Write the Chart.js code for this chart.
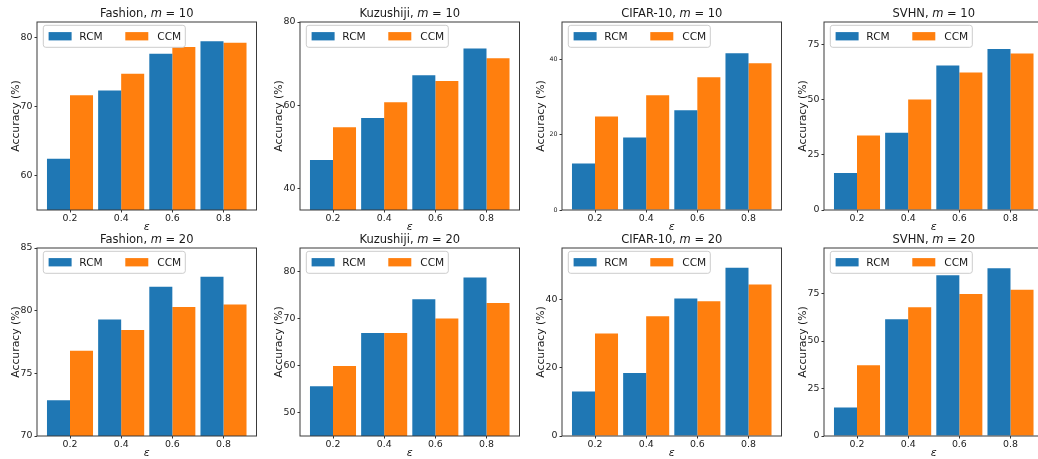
<!DOCTYPE html>
<html>
<head>
<meta charset="utf-8">
<script src="https://cdn.jsdelivr.net/npm/chart.js@4/dist/chart.umd.min.js"></script>
<style>
  html, body { margin: 0; padding: 0; background: #fff; overflow: hidden; }
  #wrap { position: relative; width: 1038px; height: 459px; }
  #wrap canvas { position: absolute; }
</style>
</head>
<body>
<div id="wrap"></div>
<script>
// x categories (privacy budget epsilon)
const epsLabels = ["0.2", "0.4", "0.6", "0.8"];
const seriesNames = ["RCM", "CCM"];

// accuracy (%), m = 10
const fashion10RCM = [62.4, 72.3, 77.6, 79.4];
const fashion10CCM = [71.6, 74.7, 78.6, 79.2];
const kuzu10RCM = [46.8, 56.9, 67.2, 73.6];
const kuzu10CCM = [54.7, 60.7, 65.8, 71.3];
const cifar10RCM = [12.4, 19.3, 26.5, 41.7];
const cifar10CCM = [24.9, 30.5, 35.3, 39.0];
const svhn10RCM = [16.8, 35.1, 65.6, 73.1];
const svhn10CCM = [33.8, 50.1, 62.4, 71.0];

// accuracy (%), m = 20
const fashion20RCM = [72.85, 79.3, 81.9, 82.7];
const fashion20CCM = [76.8, 78.45, 80.3, 80.5];
const kuzu20RCM = [55.6, 66.9, 74.1, 78.7];
const kuzu20CCM = [59.9, 66.9, 70.0, 73.3];
const cifar20RCM = [13.0, 18.4, 40.2, 49.2];
const cifar20CCM = [30.0, 35.0, 39.4, 44.3];
const svhn20RCM = [15.0, 61.5, 84.6, 88.3];
const svhn20CCM = [37.3, 67.8, 74.8, 77.0];

// y tick labels
const fashion10Ticks = [60, 70, 80];
const kuzu10Ticks = [40, 60, 80];
const cifar10Ticks = [0, 20, 40];
const svhn10Ticks = [0, 25, 50, 75];
const fashion20Ticks = [70, 75, 80, 85];
const kuzu20Ticks = [50, 60, 70, 80];
const cifar20Ticks = [0, 20, 40];
const svhn20Ticks = [0, 25, 50, 75];

// y limits
const fashion10Lim = [55, 82.2];
const kuzu10Lim = [34.8, 80];
const cifar10Lim = [0, 50];
const svhn10Lim = [0, 85.3];
const fashion20Lim = [70, 85];
const kuzu20Lim = [45, 85];
const cifar20Lim = [0, 55];
const svhn20Lim = [0, 99];

const FONT = "DejaVu Sans";
const BLUE = "#1f77b4";
const ORANGE = "#ff7f0e";
const INK = "#1a1a1a";

// layout of the 2x4 grid (plot area positions)
const colLeft = [37, 299.5, 562, 823.5];
const rowTop = [22, 248];
const plotW = 219.5, plotH = 188;
const padL = 45, padT = 22, padB = 24, padR = 3.5;

const panels = [
    { name: "Fashion", m: 10, rcm: fashion10RCM, ccm: fashion10CCM, ticks: fashion10Ticks, lim: fashion10Lim, row: 0, col: 0 },
    { name: "Kuzushiji", m: 10, rcm: kuzu10RCM, ccm: kuzu10CCM, ticks: kuzu10Ticks, lim: kuzu10Lim, row: 0, col: 1 },
    { name: "CIFAR-10", m: 10, rcm: cifar10RCM, ccm: cifar10CCM, ticks: cifar10Ticks, lim: cifar10Lim, row: 0, col: 2, tickSize: 6.3 },
    { name: "SVHN", m: 10, rcm: svhn10RCM, ccm: svhn10CCM, ticks: svhn10Ticks, lim: svhn10Lim, row: 0, col: 3 },
    { name: "Fashion", m: 20, rcm: fashion20RCM, ccm: fashion20CCM, ticks: fashion20Ticks, lim: fashion20Lim, row: 1, col: 0 },
    { name: "Kuzushiji", m: 20, rcm: kuzu20RCM, ccm: kuzu20CCM, ticks: kuzu20Ticks, lim: kuzu20Lim, row: 1, col: 1 },
    { name: "CIFAR-10", m: 20, rcm: cifar20RCM, ccm: cifar20CCM, ticks: cifar20Ticks, lim: cifar20Lim, row: 1, col: 2 },
    { name: "SVHN", m: 20, rcm: svhn20RCM, ccm: svhn20CCM, ticks: svhn20Ticks, lim: svhn20Lim, row: 1, col: 3 },
];

// title with italic m, axes frame and legend box
const panelDecor = {
    id: "panelDecor",
    afterDraw(chart, args, opts) {
        const ctx = chart.ctx;
        const ca = chart.chartArea;
        ctx.save();

        // frame
        ctx.strokeStyle = "#3a3a3a";
        ctx.lineWidth = 1;
        ctx.strokeRect(ca.left, ca.top, ca.right - ca.left, ca.bottom - ca.top);

        // title
        const parts = [
            { t: opts.name + ", ", f: "11.5px '" + FONT + "'" },
            { t: "m", f: "italic 11.5px '" + FONT + "'" },
            { t: " = " + opts.m, f: "11.5px '" + FONT + "'" },
        ];
        let total = 0;
        parts.forEach(p => { ctx.font = p.f; p.w = ctx.measureText(p.t).width; total += p.w; });
        let x = (ca.left + ca.right) / 2 - total / 2;
        ctx.fillStyle = INK;
        ctx.textBaseline = "middle";
        ctx.textAlign = "left";
        parts.forEach(p => { ctx.font = p.f; ctx.fillText(p.t, x, ca.top - 7.5); x += p.w; });

        // legend
        const lx = ca.left + 6.3, ly = ca.top + 3.3, lw = 142, lh = 22;
        ctx.beginPath();
        ctx.roundRect(lx, ly, lw, lh, 2.5);
        ctx.fillStyle = "rgba(255,255,255,0.8)";
        ctx.fill();
        ctx.strokeStyle = "#cccccc";
        ctx.stroke();
        const cy = ly + lh / 2;
        const items = chart.data.datasets.map(d => ({ label: d.label, color: d.backgroundColor }));
        const offs = [[5.3, 36], [82, 114]];
        ctx.font = "10.6px '" + FONT + "'";
        items.forEach((it, i) => {
            ctx.fillStyle = it.color;
            ctx.fillRect(lx + offs[i][0], cy - 4.2, 23, 8.3);
            ctx.fillStyle = INK;
            ctx.fillText(it.label, lx + offs[i][1], cy + 0.5);
        });
        ctx.restore();
    }
};

const wrap = document.getElementById("wrap");

panels.forEach(p => {
    const canvas = document.createElement("canvas");
    const cw = padL + plotW + padR, ch = padT + plotH + padB;
    canvas.width = cw;
    canvas.height = ch;
    canvas.style.left = (colLeft[p.col] - padL) + "px";
    canvas.style.top = (rowTop[p.row] - padT) + "px";
    canvas.style.width = cw + "px";
    canvas.style.height = ch + "px";
    wrap.appendChild(canvas);

    const tickFont = { family: FONT, size: p.tickSize || 9.4 };

    new Chart(canvas.getContext("2d"), {
        type: "bar",
        data: {
            datasets: [
                { label: seriesNames[0], data: p.rcm.map((v, i) => ({ x: i, y: v })), backgroundColor: BLUE },
                { label: seriesNames[1], data: p.ccm.map((v, i) => ({ x: i, y: v })), backgroundColor: ORANGE },
            ],
        },
        options: {
            responsive: false,
            animation: false,
            events: [],
            layout: { padding: { top: padT, left: 0, right: padR, bottom: 0 } },
            datasets: { bar: { categoryPercentage: 0.9, barPercentage: 1.0, borderWidth: 0 } },
            plugins: {
                legend: { display: false },
                tooltip: { enabled: false },
                panelDecor: { name: p.name, m: p.m },
            },
            scales: {
                x: {
                    type: "linear",
                    min: -0.645,
                    max: 3.645,
                    offset: false,
                    afterBuildTicks: s => { s.ticks = epsLabels.map((_, i) => ({ value: i })); },
                    afterFit: s => { s.height = padB; },
                    ticks: {
                        callback: v => epsLabels[v],
                        font: { family: FONT, size: 9.4 },
                        color: INK,
                        padding: 0,
                        autoSkip: false,
                        maxRotation: 0,
                    },
                    grid: { display: true, offset: false, drawOnChartArea: false, drawTicks: true, tickLength: 2.5, color: "#333" },
                    border: { display: false },
                    title: { display: true, text: "ε", color: INK, font: { family: FONT, size: 11, style: "italic" }, padding: 0 },
                },
                y: {
                    min: p.lim[0],
                    max: p.lim[1],
                    afterBuildTicks: s => { s.ticks = p.ticks.map(v => ({ value: v })); },
                    afterFit: s => { s.width = padL; },
                    ticks: { font: tickFont, color: INK, padding: 2 },
                    grid: { display: true, drawOnChartArea: false, drawTicks: true, tickLength: 2.5, color: "#333" },
                    border: { display: false },
                    title: { display: true, text: "Accuracy (%)", color: INK, font: { family: FONT, size: 10.8 }, padding: { top: 17.5, bottom: 0 } },
                },
            },
        },
        plugins: [panelDecor],
    });
});
</script>
</body>
</html>
